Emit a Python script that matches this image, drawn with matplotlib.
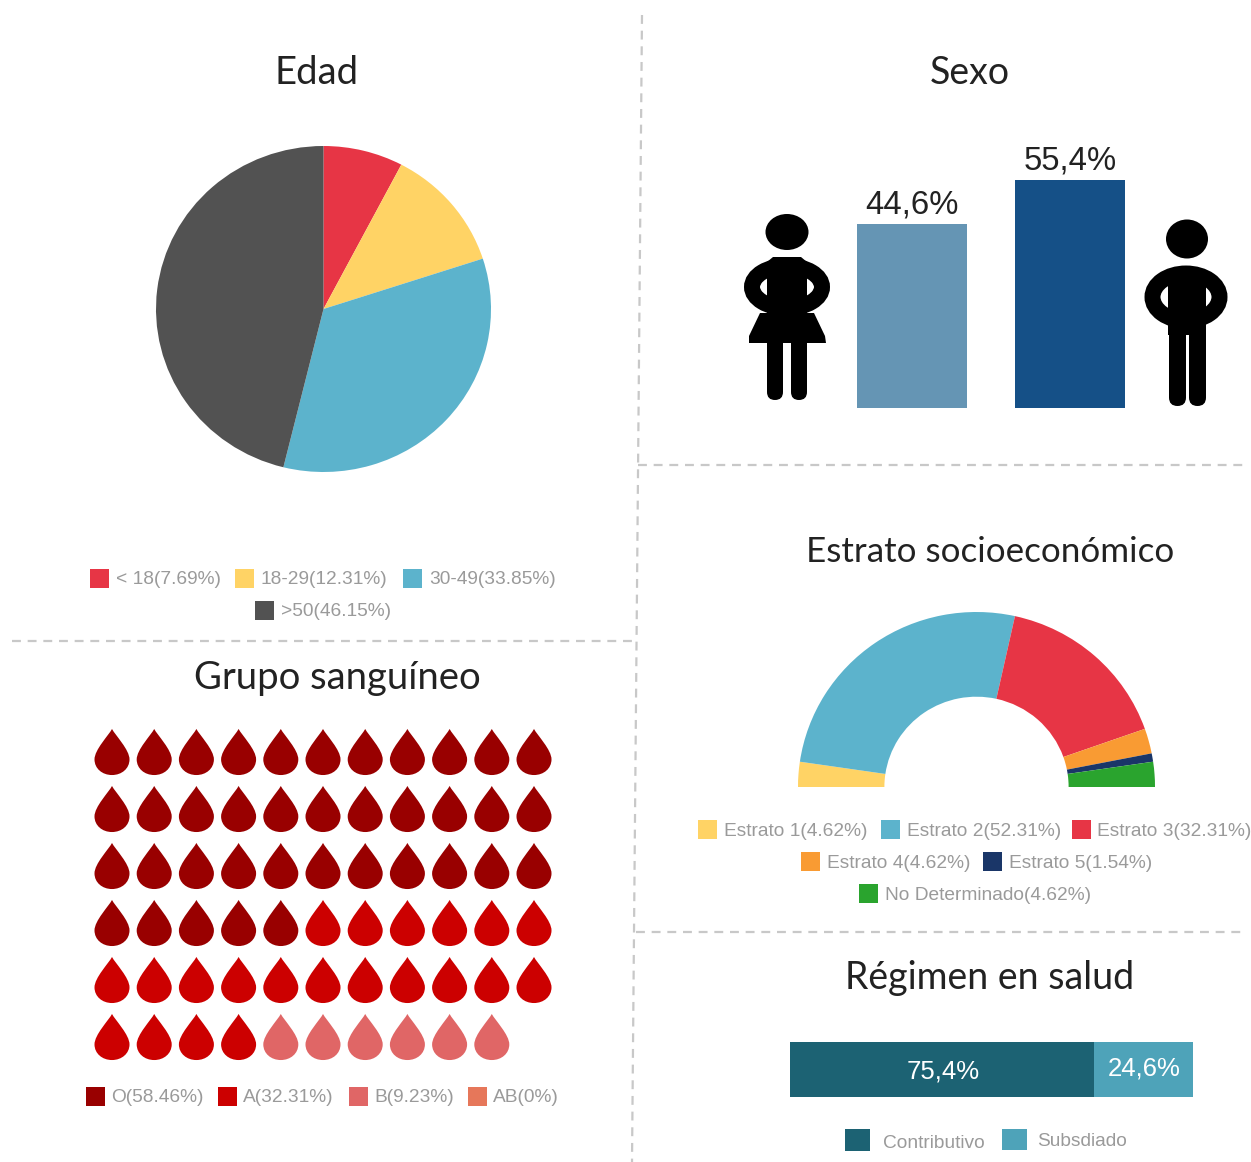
import matplotlib
matplotlib.use("Agg")
import matplotlib.pyplot as plt
from matplotlib.patches import Ellipse, FancyBboxPatch, Polygon, Rectangle
from matplotlib.path import Path

W, H = 1251, 1162

# Edad
edad_labels = ["< 18", "18-29", "30-49", ">50"]
edad_values = [7.69, 12.31, 33.85, 46.15]
edad_colors = ["#E73545", "#FFD365", "#5CB3CC", "#525252"]

# Sexo
sexo_values = [44.6, 55.4]
sexo_text = ["44,6%", "55,4%"]
sexo_colors = ["#6595B4", "#155087"]

# Estrato
estrato_labels = ["Estrato 1", "Estrato 2", "Estrato 3", "Estrato 4", "Estrato 5", "No Determinado"]
estrato_values = [4.62, 52.31, 32.31, 4.62, 1.54, 4.62]
estrato_colors = ["#FFD365", "#5CB3CC", "#E73545", "#F99B33", "#1A3668", "#2AA42E"]

# Grupo sanguineo, 65 gotas en total
grupo_labels = ["O", "A", "B", "AB"]
grupo_values = [58.46, 32.31, 9.23, 0]
grupo_counts = [38, 21, 6, 0]
grupo_colors = ["#990000", "#CC0000", "#E06666", "#E6775A"]

# Regimen
regimen_labels = ["Contributivo", "Subsdiado"]
regimen_values = [75.4, 24.6]
regimen_text = ["75,4%", "24,6%"]
regimen_colors = ["#1C6273", "#4EA3B9"]

TITLE_FONT = ["Lato", "DejaVu Sans"]
LEGEND_FONT = ["Liberation Sans", "DejaVu Sans"]
LEGEND_GRAY = "#9A9A9A"
LEGEND_SIZE = 13.75


def px_axes(fig, left, top, right, bottom):
    # axes placed with reference pixel coordinates
    return fig.add_axes([left / W, 1 - bottom / H, (right - left) / W, (bottom - top) / H])


def draw_legend(ax, labels, colors, square_x, text_x, y_centers, size=19):
    for label, color, sx, tx, yc in zip(labels, colors, square_x, text_x, y_centers):
        ax.add_patch(Rectangle((sx, yc - size / 2), size, size, color=color, lw=0))
        ax.text(tx, yc, label, color=LEGEND_GRAY, fontsize=LEGEND_SIZE, family=LEGEND_FONT,
                va="center_baseline", ha="left")


fig = plt.figure(figsize=(W / 100, H / 100), dpi=100, facecolor="white")

# overlay in pixel coordinates: titles, dividers, legends, figures
over = fig.add_axes([0, 0, 1, 1], zorder=5)
over.set_xlim(0, W)
over.set_ylim(H, 0)
over.axis("off")
over.patch.set_alpha(0)

dash = dict(color="#C8C8C8", lw=1.6, linestyle=(0, (4.0, 3.05)))
over.plot([642, 632], [15, 1162], **dash)
over.plot([12, 636], [641, 641], **dash)
over.plot([638, 1245], [465, 465], **dash)
over.plot([636, 1245], [932, 932], **dash)

titles = ["Edad", "Sexo", "Grupo sanguíneo", "Estrato socioeconómico", "Régimen en salud"]
title_x = [317, 970, 337, 990, 990]
title_y = [73, 73, 678, 552, 978]
title_size = [27.5, 27, 27.5, 25.2, 27]
for t, tx, ty, ts in zip(titles, title_x, title_y, title_size):
    over.text(tx, ty, t, fontsize=ts, family=TITLE_FONT, weight="normal", color="#222222",
              ha="center", va="center")

# Edad pie
ax = px_axes(fig, 156, 146, 491, 472)
ax.pie(edad_values, colors=edad_colors, startangle=90, counterclock=False, radius=1)
ax.set_aspect("auto")
ax.set_xlim(-1, 1)
ax.set_ylim(-1, 1)
edad_leg = [f"{n}({v}%)" for n, v in zip(edad_labels, edad_values)]
draw_legend(over, edad_leg, edad_colors, [90, 235, 403, 255], [116, 261, 429, 281], [578, 578, 578, 610])

# Sexo bars
ax = px_axes(fig, 857, 180, 1125, 408)
ax.bar([0, 1], sexo_values, width=0.696, color=sexo_colors)
ax.set_xlim(-0.348, 1.348)
ax.set_ylim(0, 55.4)
ax.axis("off")
for i, (v, t) in enumerate(zip(sexo_values, sexo_text)):
    ax.annotate(t, (i, v), xytext=(0, 2.5), textcoords="offset points", ha="center", va="bottom",
                fontsize=23.7, family=LEGEND_FONT, color="#222222", annotation_clip=False)


def leg(ax, x0, x1, top, bottom):
    w = x1 - x0
    ax.add_patch(FancyBboxPatch((x0 + w / 2, top), 0, bottom - top - w / 2,
                                boxstyle=f"round,pad={w / 2},rounding_size={w / 2}",
                                color="black", lw=0))


# mujer
over.add_patch(Ellipse((787, 232), 43, 36, color="black", lw=0))
over.add_patch(Ellipse((787, 287), 70, 42, fill=False, ec="black", lw=11.5))
over.add_patch(Polygon([(773, 257), (801, 257), (807, 262), (807, 320), (767, 320), (767, 262)],
                       color="black", lw=0))
over.add_patch(Polygon([(760, 313), (814, 313), (825, 336), (826, 343), (749, 343), (749, 336)],
                       color="black", lw=0))
leg(over, 767, 783, 340, 400)
leg(over, 791, 807, 340, 400)

# hombre
over.add_patch(Ellipse((1187, 239), 42, 39, color="black", lw=0))
over.add_patch(Ellipse((1186, 297), 67, 47, fill=False, ec="black", lw=11.5))
over.add_patch(Polygon([(1168, 272), (1206, 272), (1206, 335), (1168, 335)], color="black", lw=0))
leg(over, 1169, 1186, 330, 406)
leg(over, 1189, 1206, 330, 406)

# Estrato half donut, the hidden half is the other 180 degrees
ax = px_axes(fig, 798, 612, 1155, 962)
wedges, _ = ax.pie(estrato_values + [sum(estrato_values)], colors=estrato_colors + ["white"],
                   startangle=180, counterclock=False, radius=1,
                   wedgeprops=dict(width=0.484))
wedges[-1].set_visible(False)
ax.set_aspect("auto")
ax.set_xlim(-1, 1)
ax.set_ylim(-1, 1)
ax.patch.set_alpha(0)
estrato_leg = [f"{n}({v}%)" for n, v in zip(estrato_labels, estrato_values)]
draw_legend(over, estrato_leg, estrato_colors, [698, 881, 1072, 801, 983, 859],
            [724, 907, 1097, 827, 1009, 885], [829, 829, 829, 861, 861, 893])

# Grupo sanguineo drops
drop = Path(
    [(0, 1), (0.15, 0.72), (0.76, 0.1), (0.76, -0.32), (0.76, -0.72), (0.42, -1), (0, -1),
     (-0.42, -1), (-0.76, -0.72), (-0.76, -0.32), (-0.76, 0.1), (-0.15, 0.72), (0, 1), (0, 1)],
    [Path.MOVETO] + [Path.CURVE4] * 12 + [Path.CLOSEPOLY],
)
ax = px_axes(fig, 90.9, 723.5, 555.1, 1065.5)
drop_colors = []
for n, c in zip(grupo_counts, grupo_colors):
    drop_colors += [c] * n
cols = [i % 11 for i in range(len(drop_colors))]
rows = [i // 11 for i in range(len(drop_colors))]
ax.scatter(cols, rows, marker=drop, s=1100, c=drop_colors, linewidths=0)
ax.set_xlim(-0.5, 10.5)
ax.set_ylim(5.5, -0.5)
ax.axis("off")
grupo_leg = [f"{n}({v}%)" for n, v in zip(grupo_labels, grupo_values)]
draw_legend(over, grupo_leg, grupo_colors, [86, 218, 349, 468], [111, 243, 374, 493], [1096] * 4)

# Regimen stacked bar
ax = px_axes(fig, 790, 1042, 1193, 1097)
left = 0
for v, c in zip(regimen_values, regimen_colors):
    ax.barh(0, v, left=left, height=1, color=c)
    left += v
ax.set_xlim(0, 100)
ax.set_ylim(-0.5, 0.5)
ax.axis("off")
ax.text(38, -0.04, regimen_text[0], color="white", fontsize=18.5, family=LEGEND_FONT, ha="center", va="center")
ax.text(87.9, 0.02, regimen_text[1], color="white", fontsize=18.5, family=LEGEND_FONT, ha="center", va="center")
over.add_patch(Rectangle((845, 1129), 25, 22, color=regimen_colors[0], lw=0))
over.add_patch(Rectangle((1002, 1129), 25, 21, color=regimen_colors[1], lw=0))
over.text(883, 1141, regimen_labels[0], color=LEGEND_GRAY, fontsize=LEGEND_SIZE, family=LEGEND_FONT, va="center_baseline")
over.text(1037, 1139, regimen_labels[1], color=LEGEND_GRAY, fontsize=LEGEND_SIZE, family=LEGEND_FONT, va="center_baseline")

fig.savefig("out.png", dpi=100)
